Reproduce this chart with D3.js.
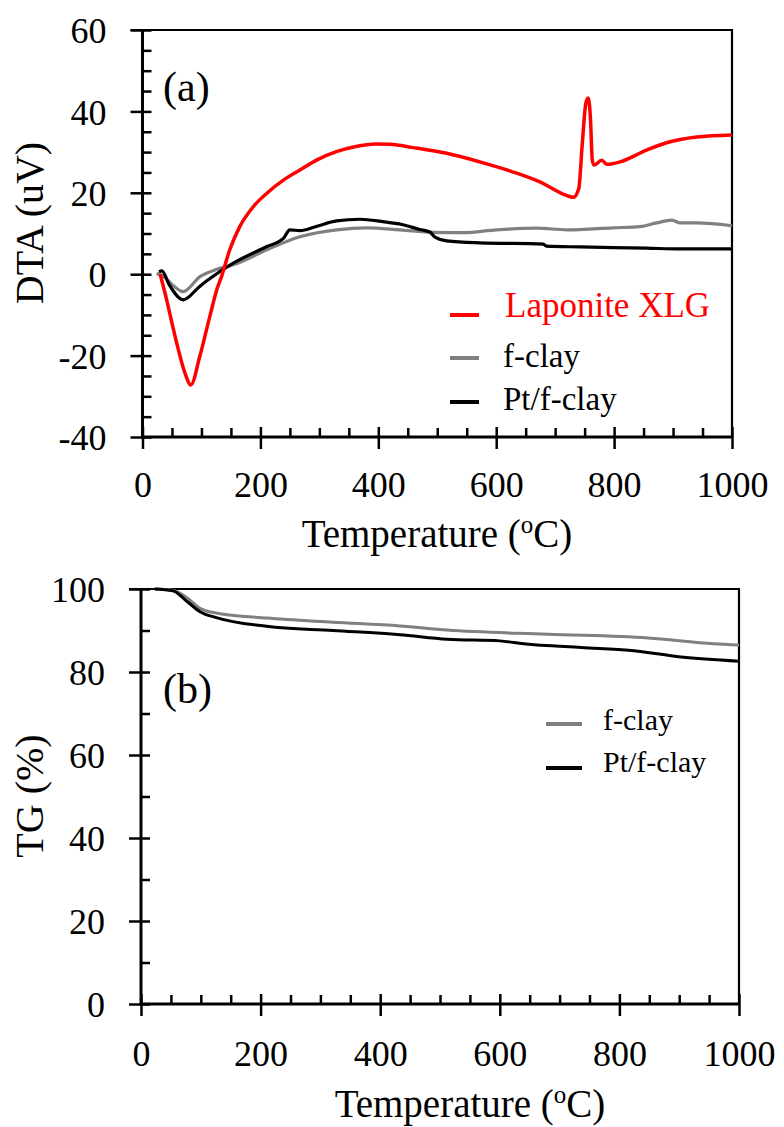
<!DOCTYPE html>
<html>
<head>
<meta charset="utf-8">
<script src="https://cdn.jsdelivr.net/npm/d3@7"></script>
<style>
  body { margin: 0; background: #fff; }
  svg text { font-family: "Liberation Serif", "Times New Roman", serif; }
</style>
</head>
<body>
<div id="chart"></div>
<script>
(() => {
"use strict";

const WIDTH = 784, HEIGHT = 1127;
const FONT = "Liberation Serif, Times New Roman, serif";

// ---- data ----
const tempTicks = [0, 200, 400, 600, 800, 1000];
const dtaTicks = [-40, -20, 0, 20, 40, 60];
const tgTicks = [0, 20, 40, 60, 80, 100];

// DTA (uV) vs temperature
const laponiteDTA = [[30,0],[41,-6.3],[50,-12],[58,-16.9],[72,-24.3],[82,-27.2],[97,-20.3],[114,-10.5],
  [126,-3.8],[134,-0.6],[148,6],[165,11.7],[188,16.6],[211,19.9],[239,23.1],[267,25.6],[296,28.1],
  [329,30.1],[360,31.3],[395,32],[420,31.9],[459,31.1],[516,29.7],[572,27.6],[629,25.1],[674,22.7],
  [722,19.2],[731,18.9],[740,21],[746,32],[752,42],[756,43.3],[760,38],[763,28],[766,26.8],[779,28],
  [788,27],[810,27.6],[855,30.5],[889,32.3],[940,33.7],[1000,34.2]];
const fclayDTA = [[24,0.2],[35,-0.5],[50,-2.5],[69,-4.3],[97.5,-0.6],[126,1.2],[154,2.3],[211,6],
  [267,9.2],[329,10.9],[380,11.4],[437,10.9],[493,10.3],[544,10.2],[601,10.9],[669,11.3],
  [720,10.9],[798,11.4],[844,11.7],[872,12.6],[898,13.3],[912,12.6],[940,12.6],[1000,11.9]];
const ptfclayDTA = [[28,0.6],[33,0.8],[45,-2.5],[69,-6.3],[97,-3],[115,-1],[154,2.7],[211,6.8],
  [239,8.8],[250,10.9],[267,10.7],[296,11.8],[329,13.1],[369,13.5],[408,12.9],[440,12.2],[470,11],
  [488,10.3],[496,9.1],[516,8.2],[572,7.7],[680,7.4],[685,6.9],[742,6.7],[855,6.4],[912,6.2],[1000,6.2]];

// TG (%) vs temperature
const fclayTG = [[23,100],[53,99.7],[77,97.9],[98,95.4],[126,94.2],[210,93],[321,92],[433,91.1],
  [512,90.1],[680,89.1],[848,88.2],[958,86.8],[1000,86.5]];
const ptfclayTG = [[23,100],[53,99.6],[77,97],[98,94.6],[126,93.1],[210,91],[321,90],[433,89],
  [512,87.9],[600,87.5],[640,86.8],[736,85.9],[820,85.2],[903,83.6],[1000,82.6]];

const RED = "#ff0000", GRAY = "#808080", BLACK = "#000000";

const svg = d3.select("#chart").append("svg")
  .attr("width", WIDTH)
  .attr("height", HEIGHT);

function panel(opts) {
  const x = d3.scaleLinear().domain([0, 1000]).range([opts.left, opts.right]);
  const y = d3.scaleLinear().domain(opts.yDomain).range([opts.bottom, opts.top]);
  const g = svg.append("g").attr("font-family", FONT);

  // frame top/right
  g.append("path")
    .attr("d", `M${opts.left - 12},${opts.top}H${opts.right}V${opts.bottom}`)
    .attr("fill", "none").attr("stroke", "#000").attr("stroke-width", 2.2);

  // minor ticks (inward)
  g.append("g")
    .attr("transform", `translate(0,${opts.bottom})`)
    .call(d3.axisBottom(x).tickValues(d3.range(0, 1001, 50).filter(d => d % 200)).tickSize(-9).tickFormat(""))
    .call(a => a.select(".domain").remove())
    .selectAll("line").attr("stroke-width", 2.5);
  g.append("g")
    .attr("transform", `translate(${opts.left},0)`)
    .call(d3.axisLeft(y).tickValues(opts.yMinor).tickSize(-9).tickFormat(""))
    .call(a => a.select(".domain").remove())
    .selectAll("line").attr("stroke-width", 2.5);

  // major x ticks
  const xa = g.append("g")
    .attr("transform", `translate(0,${opts.bottom})`)
    .call(d3.axisBottom(x).tickValues(tempTicks).tickSize(12).tickFormat(d => String(d)));
  xa.attr("font-family", FONT).select(".domain").remove();
  xa.selectAll(".tick line").attr("y1", -10).attr("stroke-width", 2.5);
  xa.selectAll(".tick text")
    .attr("y", opts.xLabelDy).attr("dy", 0)
    .attr("font-family", FONT)
    .attr("font-size", 36).attr("fill", "#000");

  // major y ticks
  const ya = g.append("g")
    .attr("transform", `translate(${opts.left},0)`)
    .call(d3.axisLeft(y).tickValues(opts.yTicks).tickSize(12).tickFormat(d => String(d)));
  ya.attr("font-family", FONT).select(".domain").remove();
  ya.selectAll(".tick line").attr("x1", 9).attr("stroke-width", 2.5);
  ya.selectAll(".tick text")
    .attr("x", -36).attr("dy", "0.35em")
    .attr("font-family", FONT)
    .attr("font-size", 36).attr("fill", "#000");

  // axis lines
  g.append("path")
    .attr("d", `M${opts.left},${opts.top}V${opts.bottom}H${opts.right}`)
    .attr("fill", "none").attr("stroke", "#000").attr("stroke-width", 3);

  // series
  const line = d3.line().x(d => x(d[0])).y(d => y(d[1])).curve(d3.curveMonotoneX);
  opts.series.forEach(s => {
    g.append("path")
      .datum(s.data)
      .attr("d", line)
      .attr("fill", "none")
      .attr("stroke", s.color)
      .attr("stroke-width", s.width)
      .attr("stroke-linejoin", "round");
  });

  // titles
  const xt = g.append("text")
    .attr("x", opts.xTitleX).attr("y", opts.xTitleY)
    .attr("text-anchor", "middle").attr("font-size", 39);
  xt.append("tspan").text("Temperature (");
  xt.append("tspan").attr("font-size", 25).attr("dy", -14).text("o");
  xt.append("tspan").attr("dy", 14).text("C)");

  g.append("text")
    .attr("transform", `translate(43,${opts.yTitleY}) rotate(-90)`)
    .attr("text-anchor", "middle").attr("font-size", 40)
    .text(opts.yTitle);

  g.append("text")
    .attr("x", 163).attr("y", opts.tagY)
    .attr("font-size", 42).text(opts.tag);

  // legend
  opts.legend.forEach(l => {
    g.append("line")
      .attr("x1", l.x1).attr("x2", l.x2).attr("y1", l.ly).attr("y2", l.ly)
      .attr("stroke", l.color).attr("stroke-width", 4);
    g.append("text")
      .attr("x", l.tx).attr("y", l.ty)
      .attr("font-size", l.size).attr("fill", l.textColor || "#000")
      .text(l.label);
  });
}

panel({
  left: 142.5, right: 732, top: 30, bottom: 437,
  yDomain: [-40, 60], yTicks: dtaTicks,
  yMinor: d3.range(-40, 61, 5).filter(d => d % 20),
  xLabelDy: 60,
  xTitleX: 437, xTitleY: 547,
  yTitle: "DTA (uV)", yTitleY: 223,
  tag: "(a)", tagY: 101,
  series: [
    { data: fclayDTA, color: GRAY, width: 3.2 },
    { data: ptfclayDTA, color: BLACK, width: 3.2 },
    { data: laponiteDTA, color: RED, width: 3.5 }
  ],
  legend: [
    { label: "Laponite XLG", color: RED, textColor: RED, x1: 450, x2: 479, ly: 315, tx: 505, ty: 317, size: 35 },
    { label: "f-clay", color: GRAY, x1: 450, x2: 479, ly: 358, tx: 503, ty: 367, size: 33 },
    { label: "Pt/f-clay", color: BLACK, x1: 450, x2: 479, ly: 402, tx: 503, ty: 410, size: 33 }
  ]
});

panel({
  left: 141, right: 739, top: 589, bottom: 1004,
  yDomain: [0, 100], yTicks: tgTicks,
  yMinor: d3.range(10, 100, 20),
  xLabelDy: 62,
  xTitleX: 470, xTitleY: 1117,
  yTitle: "TG (%)", yTitleY: 796,
  tag: "(b)", tagY: 703,
  series: [
    { data: fclayTG, color: GRAY, width: 3 },
    { data: ptfclayTG, color: BLACK, width: 3 }
  ],
  legend: [
    { label: "f-clay", color: GRAY, x1: 546, x2: 582, ly: 724, tx: 603, ty: 730, size: 30 },
    { label: "Pt/f-clay", color: BLACK, x1: 546, x2: 582, ly: 768, tx: 603, ty: 772, size: 30 }
  ]
});
})();
</script>
</body>
</html>
